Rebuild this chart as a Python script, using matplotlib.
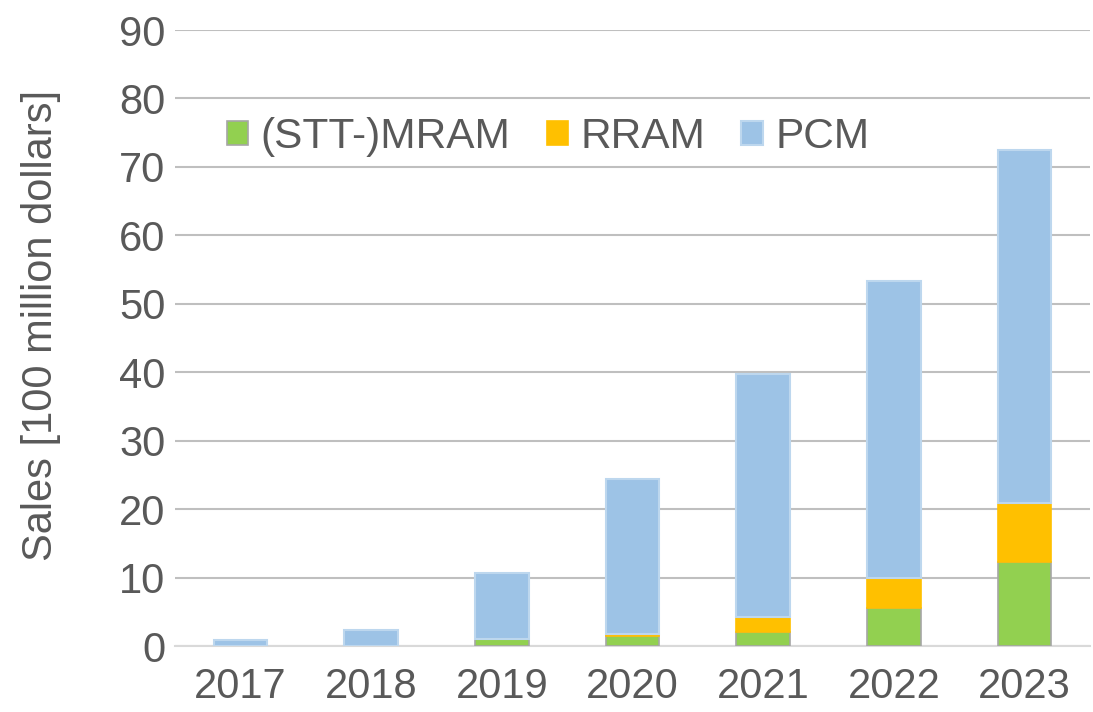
import matplotlib.pyplot as plt
import numpy as np

years = ['2017', '2018', '2019', '2020', '2021', '2022', '2023']
mram = [0.0, 0.0, 1.0, 1.5, 2.0, 5.5, 12.2]
rram = [0.0, 0.0, 0.0, 0.3, 2.2, 4.4, 8.7]
totals = [0.9, 2.4, 10.7, 24.4, 39.7, 53.3, 72.4]
pcm = [t - m - r for t, m, r in zip(totals, mram, rram)]

grey_txt = '#595959'
plt.rcParams['font.family'] = ['Arial', 'Liberation Sans', 'DejaVu Sans']

fig = plt.figure(figsize=(10.93, 7.12), dpi=100)
ax = fig.add_axes([175 / 1093, 1 - 646 / 712, (1090 - 175) / 1093, (646 - 30) / 712])

x = np.arange(len(years))
w = 0.41
ax.bar(x, mram, w, color='#92D050', edgecolor='#A6A6A6', linewidth=1.2, label='(STT-)MRAM', zorder=3)
ax.bar(x, rram, w, bottom=mram, color='#FFC000', edgecolor='#FFC000', linewidth=1.2, label='RRAM', zorder=3)
bot = [m + r for m, r in zip(mram, rram)]
ax.bar(x, pcm, w, bottom=bot, color='#9DC3E6', edgecolor='#BDD7EE', linewidth=1.5, label='PCM', zorder=3)

ax.set_xlim(-0.5, 6.5)
ax.set_ylim(0, 90)
ax.set_yticks(range(0, 91, 10))
ax.set_xticks(x)
ax.set_xticklabels(years)
ax.yaxis.grid(True, color='#BFBFBF', linewidth=1.5, zorder=0)
for s in ['left', 'right', 'top']:
    ax.spines[s].set_visible(False)
ax.spines['bottom'].set_color('#D9D9D9')
ax.spines['bottom'].set_linewidth(1.5)
ax.tick_params(length=0, labelsize=30, colors=grey_txt)
ax.tick_params(axis='x', pad=15)
ax.tick_params(axis='y', pad=7)
ax.set_ylabel('Sales [100 million dollars]', fontsize=30, color=grey_txt)
ax.yaxis.set_label_coords(-0.125, 0.52)

ax.legend(loc='upper left', bbox_to_anchor=(0.015, 0.921), ncol=3, frameon=False,
          fontsize=30.5, labelcolor=grey_txt, handlelength=0.5, handleheight=0.5,
          handletextpad=0.3, columnspacing=0.85)

fig.savefig('out.png', dpi=100)
